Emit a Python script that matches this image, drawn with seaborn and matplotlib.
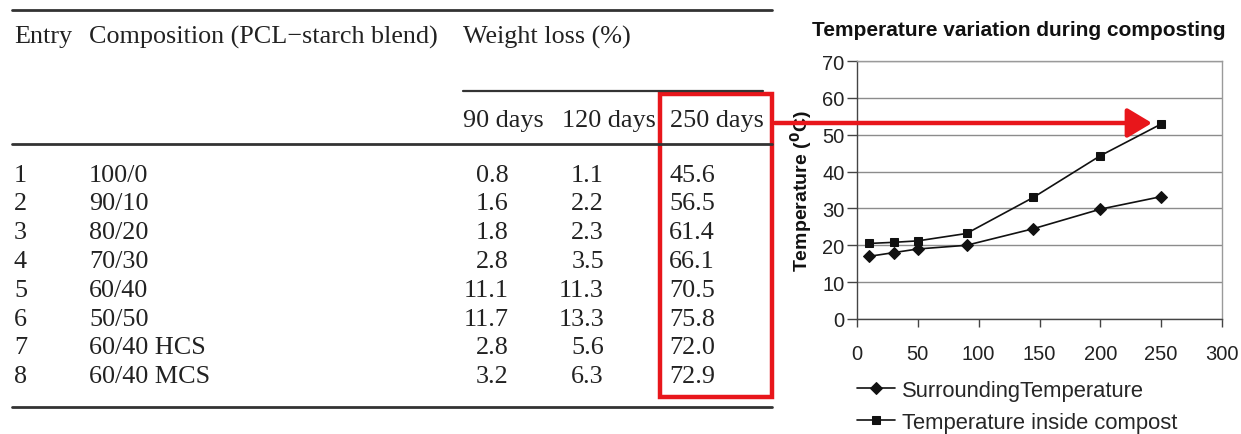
import matplotlib
matplotlib.use("Agg")
import matplotlib.pyplot as plt
import seaborn as sns
import pandas as pd
from matplotlib.patches import Rectangle, FancyArrowPatch
from matplotlib.lines import Line2D

# ---------------- data ----------------
entries = [1, 2, 3, 4, 5, 6, 7, 8]
compositions = ["100/0", "90/10", "80/20", "70/30", "60/40", "50/50", "60/40 HCS", "60/40 MCS"]
loss_90 = [0.8, 1.6, 1.8, 2.8, 11.1, 11.7, 2.8, 3.2]
loss_120 = [1.1, 2.2, 2.3, 3.5, 11.3, 13.3, 5.6, 6.3]
loss_250 = [45.6, 56.5, 61.4, 66.1, 70.5, 75.8, 72.0, 72.9]

days = [10, 30, 50, 90, 145, 200, 250]
surrounding_temp = [17.0, 18.0, 19.0, 20.0, 24.5, 29.8, 33.2]
compost_temp = [20.5, 20.8, 21.2, 23.2, 33.0, 44.3, 52.9]
series_names = ["SurroundingTemperature", "Temperature inside compost"]

W, H = 1241, 435
sns.set_theme(style="white")
plt.rcParams["font.family"] = ["Liberation Sans", "DejaVu Sans"]

fig = plt.figure(figsize=(W / 100, H / 100), dpi=100)


def fx(px):
    return px / W


def fy(py):
    return 1 - py / H


# ---------------- table ----------------
serif = ["Liberation Serif", "DejaVu Serif"]
tfs = 18.8
tcol = "#222222"

def rule(x0, x1, y, lw=2.0):
    fig.add_artist(Line2D([fx(x0), fx(x1)], [fy(y), fy(y)], transform=fig.transFigure,
                          color="#333333", lw=lw))

rule(12, 772, 10.5)
rule(463, 763, 92, lw=1.6)
rule(12, 772, 145)
rule(12, 772, 408)

def ttext(x, y, s, ha="left"):
    fig.text(fx(x), fy(y), s, family=serif, fontsize=tfs, color=tcol, ha=ha, va="baseline")

ttext(14, 43.5, "Entry")
ttext(89, 43.5, "Composition (PCL\u2212starch blend)")
ttext(463, 43.5, "Weight loss (%)")
ttext(463, 127, "90 days")
ttext(562, 127, "120 days")
ttext(670, 127, "250 days")

row0, dy = 181.7, 28.8
for i, (e, c, a, b, d) in enumerate(zip(entries, compositions, loss_90, loss_120, loss_250)):
    y = row0 + i * dy
    ttext(14, y, str(e))
    ttext(89, y, c)
    ttext(508.5, y, f"{a:.1f}", ha="right")
    ttext(604, y, f"{b:.1f}", ha="right")
    ttext(669, y, f"{d:.1f}")

# red highlight box
fig.add_artist(Rectangle((fx(660), fy(398)), fx(772) - fx(660), fy(95) - fy(398),
                         transform=fig.transFigure, fill=False, edgecolor="#e8161b", lw=3.2))

# ---------------- chart ----------------
ax = fig.add_axes([fx(857), fy(320), fx(1222) - fx(857), fy(62) - fy(320)])
df = pd.DataFrame({
    "day": days * 2,
    "temp": surrounding_temp + compost_temp,
    "series": [series_names[0]] * len(days) + [series_names[1]] * len(days),
})
sns.lineplot(data=df[df.series == series_names[0]], x="day", y="temp", ax=ax,
             color="#111111", lw=1.2, marker="D", markersize=6.5, markeredgecolor="#111111",
             label=series_names[0])
sns.lineplot(data=df[df.series == series_names[1]], x="day", y="temp", ax=ax,
             color="#111111", lw=1.2, marker="s", markersize=6, markeredgecolor="#111111",
             label=series_names[1])

ax.set_xlim(0, 300)
ax.set_ylim(0, 70)
ax.set_xticks(range(0, 301, 50))
ax.set_yticks(range(0, 71, 10))
ax.yaxis.grid(True, color="#8c8c8c", lw=1.0)
ax.xaxis.grid(False)
for s in ["top", "right"]:
    ax.spines[s].set_color("#9a9a9a")
    ax.spines[s].set_linewidth(1.0)
for s in ["left", "bottom"]:
    ax.spines[s].set_color("#444444")
    ax.spines[s].set_linewidth(1.0)
ax.tick_params(axis="both", which="major", direction="out", width=1,
               color="#444444", labelsize=14.5, labelcolor="#222222")
ax.tick_params(axis="y", length=7, pad=2)
ax.tick_params(axis="x", length=6, pad=12)
ax.tick_params(left=True, bottom=True)
ax.set_xlabel("")
ax.set_ylabel("Temperature ($\\mathbf{^0}$C)", fontsize=14, fontweight="bold", color="#111111",
              labelpad=6)
fig.text(fx(1019), fy(36), "Temperature variation during composting", fontsize=15,
         fontweight="bold", color="#111111", ha="center", va="baseline")

handles, labels = ax.get_legend_handles_labels()
ax.legend_.remove()
fig.legend(handles, labels, loc="upper left", bbox_to_anchor=(fx(857), fy(381)),
           frameon=False, fontsize=15.8, handlelength=1.75, handletextpad=0.3,
           labelspacing=0.5, borderpad=0, borderaxespad=0)

# red arrow
fig.add_artist(FancyArrowPatch((fx(775), fy(124)), (fx(1152), fy(124)),
                               transform=fig.transFigure, arrowstyle="-|>,head_length=10,head_width=6",
                               color="#e8161b", lw=3.2, mutation_scale=1.5, shrinkA=0, shrinkB=0))

fig.savefig("out.png", dpi=100)
